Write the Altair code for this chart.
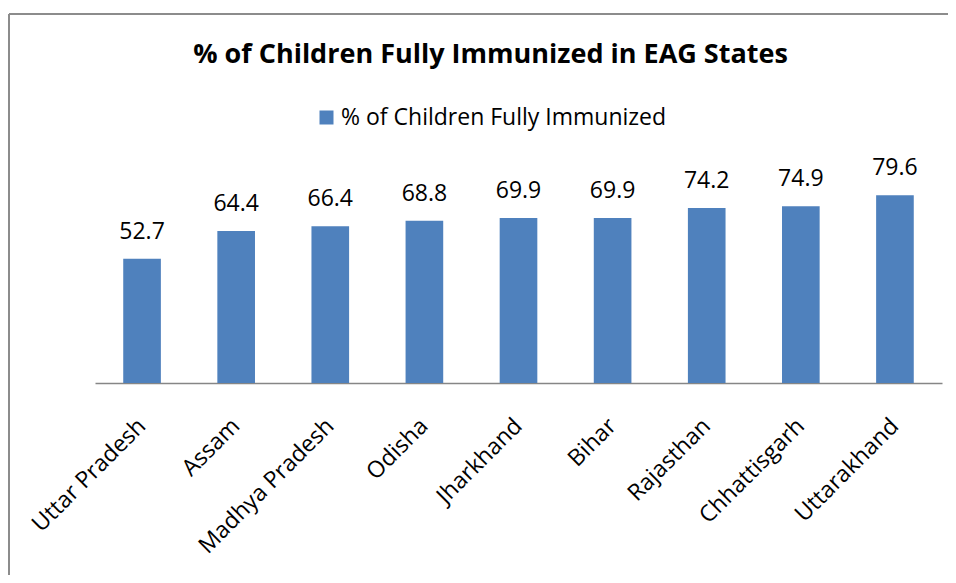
import altair as alt
import pandas as pd

states = ["Uttar Pradesh", "Assam", "Madhya Pradesh", "Odisha", "Jharkhand",
          "Bihar", "Rajasthan", "Chhattisgarh", "Uttarakhand"]
values = [52.7, 64.4, 66.4, 68.8, 69.9, 69.9, 74.2, 74.9, 79.6]
series_name = "% of Children Fully Immunized"
title_text = "% of Children Fully Immunized in EAG States"

df = pd.DataFrame({"State": states, "Value": values, "Series": series_name})

FONT = "Open Sans"
W, H = 847, 236

base = alt.Chart(df)

x_enc = alt.X("State:N", sort=states, title=None,
              scale=alt.Scale(paddingInner=0.6, paddingOuter=0.3),
              axis=alt.Axis(labelAngle=-45, labelAlign="right", labelBaseline="middle",
                            labelFont=FONT, labelFontSize=23, labelColor="#000000",
                            labelPadding=39, ticks=False, domainColor="#868686",
                            domainWidth=1.5, labelOverlap=False, labelLimit=400))
y_enc = alt.Y("Value:Q", title=None, scale=alt.Scale(domain=[0, 100]), axis=None)

bars = base.mark_bar(color="#4F81BD").encode(
    x=x_enc, y=y_enc,
    color=alt.Color("Series:N", title=None,
                    scale=alt.Scale(range=["#4F81BD"]),
                    legend=alt.Legend(orient="none", legendX=220, legendY=-41,
                                      symbolType="square", symbolSize=196,
                                      symbolStrokeWidth=0, symbolOffset=0,
                                      labelFont=FONT, labelFontSize=23,
                                      labelColor="#000000", labelLimit=600,
                                      labelOffset=3)),
)

labels = base.mark_text(dy=-15, font=FONT, fontSize=23, color="#000000",
                        baseline="bottom").encode(
    x=alt.X("State:N", sort=states), y=y_enc, text=alt.Text("Value:Q", format=".1f"))

border_top = base.mark_rule(color="#8C8C8C", strokeWidth=1.5, clip=False).encode(
    x=alt.value(-86), x2=alt.value(W + 40), y=alt.value(-133))
border_left = base.mark_rule(color="#8C8C8C", strokeWidth=1.5, clip=False).encode(
    x=alt.value(-86), y=alt.value(-133), y2=alt.value(H + 250))

chart = alt.layer(border_top, border_left, bars, labels).properties(
    width=W, height=H,
    autosize=alt.AutoSizeParams(type="none"),
    padding={"left": 87, "top": 139, "right": 6, "bottom": 192},
    title=alt.TitleParams(title_text, font=FONT, fontSize=27, fontWeight="bold",
                          color="#000000", anchor="middle", dx=-28, offset=-77,
                          baseline="alphabetic"),
).configure(background="white").configure_view(stroke="transparent", strokeWidth=0)

chart.save("out.html", embed_options={"renderer": "svg", "actions": False})
